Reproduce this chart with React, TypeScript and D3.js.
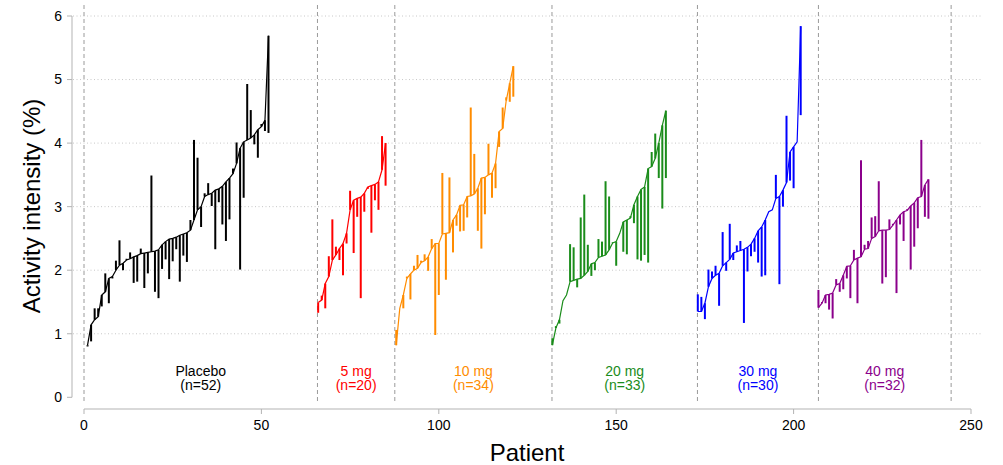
import React from "react";
import * as d3 from "d3";

const groupNames = ["Placebo", "5 mg", "10 mg", "20 mg", "30 mg", "40 mg"];
const groupColors = ["#000000", "#ff0000", "#ff8c00", "#1a8c1a", "#0000ff", "#8b008b"];
const groupStarts = [1, 66, 88, 132, 173, 207];
const boundaries = [0, 65.8, 87.6, 131.9, 172.9, 207, 244.4];
const xTicks = [0, 50, 100, 150, 200, 250];
const yTicks = [0, 1, 2, 3, 4, 5, 6];

const placeboLine = [0.82, 1.14, 1.22, 1.27, 1.61, 1.66, 1.87, 1.9, 2.0, 2.08, 2.11, 2.16, 2.18, 2.21, 2.23, 2.26, 2.27, 2.28, 2.29, 2.3, 2.32, 2.4, 2.45, 2.49, 2.5, 2.52, 2.55, 2.57, 2.59, 2.63, 2.79, 2.95, 3.0, 3.16, 3.19, 3.21, 3.26, 3.28, 3.32, 3.39, 3.45, 3.52, 3.68, 3.92, 4.02, 4.05, 4.08, 4.13, 4.21, 4.26, 4.36, 5.69];
const placeboObs = [0.8, 0.88, 1.4, 1.4, 1.43, 1.95, 1.48, 1.87, 2.15, 2.47, 2.0, 2.18, 2.28, 1.8, 1.82, 2.34, 1.72, 1.95, 3.49, 1.66, 1.56, 2.02, 2.17, 1.86, 2.14, 2.33, 1.82, 2.23, 2.13, 2.79, 4.05, 3.77, 2.68, 3.21, 3.37, 3.01, 2.33, 3.07, 2.72, 2.46, 2.8, 3.6, 4.01, 2.01, 3.14, 4.93, 4.52, 3.98, 3.77, 4.3, 4.19, 4.16];

const mg5Line = [1.49, 1.53, 1.79, 1.9, 2.16, 2.24, 2.34, 2.42, 2.58, 2.95, 3.1, 3.13, 3.15, 3.21, 3.31, 3.33, 3.35, 3.39, 3.58, 4.0];
const mg5Obs = [1.33, 1.6, 1.4, 2.22, 2.8, 2.37, 2.16, 1.92, 2.42, 3.25, 2.27, 2.84, 1.56, 2.92, 3.28, 2.59, 3.1, 2.95, 4.11, 3.33];

const mg10Line = [0.82, 1.4, 1.61, 1.87, 1.94, 2.0, 2.03, 2.12, 2.15, 2.21, 2.34, 2.42, 2.42, 2.57, 2.58, 2.59, 2.79, 2.87, 3.02, 3.03, 3.16, 3.17, 3.2, 3.29, 3.45, 3.46, 3.5, 3.53, 3.68, 4.18, 4.23, 4.67, 4.94, 5.21];
const mg10Obs = [1.06, 1.4, 1.4, 1.9, 1.54, 2.07, 2.24, 2.15, 2.25, 1.99, 2.49, 0.98, 1.61, 3.53, 1.85, 3.46, 2.28, 2.7, 2.61, 2.62, 2.83, 4.56, 3.83, 2.62, 2.34, 2.88, 3.99, 3.14, 3.29, 3.94, 4.56, 4.72, 4.65, 4.73];

const mg20Line = [0.82, 1.09, 1.22, 1.52, 1.61, 1.82, 1.84, 1.86, 1.87, 1.92, 1.98, 2.1, 2.12, 2.2, 2.22, 2.24, 2.32, 2.43, 2.45, 2.58, 2.76, 2.79, 2.82, 3.03, 3.16, 3.27, 3.31, 3.6, 3.63, 3.76, 4.0, 4.28, 4.51];
const mg20Obs = [0.93, 1.12, 1.16, 1.52, 1.61, 2.41, 2.36, 1.73, 2.83, 3.19, 2.4, 1.91, 2.0, 2.49, 2.45, 3.4, 3.16, 2.44, 2.07, 2.58, 2.29, 2.25, 2.85, 2.74, 2.17, 2.15, 2.24, 2.12, 3.86, 4.15, 3.45, 2.97, 3.45];

const mg30Line = [1.35, 1.35, 1.48, 1.74, 1.87, 1.92, 1.95, 2.07, 2.12, 2.17, 2.27, 2.29, 2.31, 2.33, 2.36, 2.41, 2.5, 2.62, 2.68, 2.79, 2.92, 2.95, 3.13, 3.16, 3.26, 3.38, 3.86, 3.94, 4.02, 5.84];
const mg30Obs = [1.62, 1.58, 1.23, 2.01, 1.98, 2.07, 1.44, 2.6, 1.99, 2.73, 2.16, 2.39, 2.46, 1.17, 1.98, 2.22, 2.29, 2.12, 1.9, 1.92, 2.92, 2.95, 3.5, 1.78, 3.0, 4.43, 3.41, 3.29, 4.02, 4.44];

const mg40Line = [1.41, 1.48, 1.61, 1.62, 1.64, 1.77, 1.79, 1.92, 2.06, 2.07, 2.16, 2.19, 2.21, 2.33, 2.34, 2.5, 2.53, 2.62, 2.63, 2.63, 2.64, 2.71, 2.79, 2.87, 2.92, 2.94, 3.01, 3.06, 3.14, 3.16, 3.34, 3.43];
const mg40Obs = [1.69, 1.5, 1.48, 1.38, 1.24, 1.86, 1.66, 1.7, 1.87, 1.56, 2.32, 1.48, 3.73, 2.4, 2.46, 2.83, 2.85, 3.4, 1.79, 1.89, 2.8, 2.73, 1.64, 2.72, 2.46, 2.96, 2.01, 2.37, 2.66, 4.05, 2.84, 2.81];

const lineSeries = [placeboLine, mg5Line, mg10Line, mg20Line, mg30Line, mg40Line];
const obsSeries = [placeboObs, mg5Obs, mg10Obs, mg20Obs, mg30Obs, mg40Obs];

const W = 1003;
const H = 465;
const FONT = "'Liberation Sans', Arial, Helvetica, sans-serif";

export default function App() {
  const x = d3.scaleLinear().domain([0, 250]).range([84, 971]);
  const y = d3.scaleLinear().domain([0, 6]).range([397.3, 16]);
  const axisColor = "#b3b3b3";
  const line = d3
    .line<{ px: number; v: number }>()
    .x((d) => x(d.px))
    .y((d) => y(d.v));

  return (
    <svg
      width={W}
      height={H}
      style={{ position: "absolute", left: 0, top: 0, background: "#fff" }}
      fontFamily={FONT}
    >
      {/* horizontal dotted gridlines */}
      {yTicks
        .filter((t) => t > 0)
        .map((t) => (
          <line
            key={"g" + t}
            x1={73}
            x2={982}
            y1={y(t)}
            y2={y(t)}
            stroke="#c8c8c8"
            strokeWidth={1}
            strokeDasharray="1 2.5"
          />
        ))}
      {/* vertical dashed group separators */}
      {boundaries.map((b, i) => (
        <line
          key={"b" + i}
          x1={x(b)}
          x2={x(b)}
          y1={5}
          y2={404}
          stroke="#9a9a9a"
          strokeWidth={1}
          strokeDasharray="4 3"
        />
      ))}
      {/* y axis */}
      <line x1={72} x2={72} y1={y(6)} y2={y(0)} stroke={axisColor} strokeWidth={1} />
      {yTicks.map((t) => (
        <g key={"yt" + t}>
          <line x1={67} x2={72} y1={y(t)} y2={y(t)} stroke={axisColor} strokeWidth={1} />
          <text x={62} y={y(t)} dy="0.35em" textAnchor="end" fontSize={14} fill="#000">
            {t}
          </text>
        </g>
      ))}
      {/* x axis */}
      <line x1={x(0)} x2={x(250)} y1={409} y2={409} stroke={axisColor} strokeWidth={1} />
      {xTicks.map((t) => (
        <g key={"xt" + t}>
          <line x1={x(t)} x2={x(t)} y1={409} y2={414} stroke={axisColor} strokeWidth={1} />
          <text x={x(t)} y={430} textAnchor="middle" fontSize={14} fill="#000">
            {t}
          </text>
        </g>
      ))}
      {/* axis titles */}
      <text x={527} y={461} textAnchor="middle" fontSize={24} fill="#000">
        Patient
      </text>
      <text
        transform={`translate(32, 206) rotate(-90)`}
        textAnchor="middle"
        dy="0.35em"
        fontSize={24}
        fill="#000"
      >
        Activity intensity (%)
      </text>
      {/* groups */}
      {groupNames.map((name, gi) => {
        const lv = lineSeries[gi];
        const ov = obsSeries[gi];
        const pts = lv.map((v, i) => ({ px: groupStarts[gi] + i, v }));
        const color = groupColors[gi];
        const cx = x((boundaries[gi] + boundaries[gi + 1]) / 2);
        return (
          <g key={"grp" + gi}>
            {ov.map((o, i) => (
              <line
                key={"s" + i}
                x1={x(groupStarts[gi] + i)}
                x2={x(groupStarts[gi] + i)}
                y1={y(lv[i])}
                y2={y(o)}
                stroke={color}
                strokeWidth={2}
              />
            ))}
            <path d={line(pts) || ""} fill="none" stroke={color} strokeWidth={1.2} />
            <text x={cx} y={376} textAnchor="middle" fontSize={14} fill={color}>
              {name}
            </text>
            <text x={cx} y={390} textAnchor="middle" fontSize={14} fill={color}>
              {`(n=${lv.length})`}
            </text>
          </g>
        );
      })}
    </svg>
  );
}
